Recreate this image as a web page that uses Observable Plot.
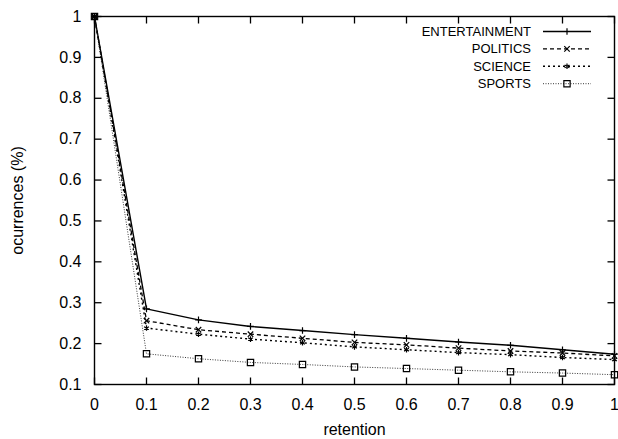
<!DOCTYPE html>
<html>
<head>
<meta charset="utf-8">
<script src="https://cdn.jsdelivr.net/npm/d3@7"></script>
<script src="https://cdn.jsdelivr.net/npm/@observablehq/plot@0.6"></script>
<style>
  body { margin: 0; background: #fff; }
  svg { font-family: "Liberation Sans", Arial, Helvetica, sans-serif; }
</style>
</head>
<body>
<div id="chart"></div>
<script>
// Retention levels on the x axis
const retention = [0, 0.1, 0.2, 0.3, 0.4, 0.5, 0.6, 0.7, 0.8, 0.9, 1];

// Share of occurrences per category
const entertainment = [1, 0.285, 0.258, 0.242, 0.232, 0.222, 0.213, 0.204, 0.196, 0.185, 0.174];
const politics      = [1, 0.256, 0.234, 0.223, 0.213, 0.203, 0.197, 0.189, 0.182, 0.177, 0.170];
const science       = [1, 0.238, 0.223, 0.211, 0.202, 0.192, 0.185, 0.178, 0.173, 0.166, 0.161];
const sports        = [1, 0.175, 0.163, 0.154, 0.149, 0.143, 0.139, 0.135, 0.131, 0.128, 0.124];

const categories = ["ENTERTAINMENT", "POLITICS", "SCIENCE", "SPORTS"];
const seriesValues = [entertainment, politics, science, sports];

// Axis ticks
const xTicks = [0, 0.1, 0.2, 0.3, 0.4, 0.5, 0.6, 0.7, 0.8, 0.9, 1];
const xTickLabels = ["0", "0.1", "0.2", "0.3", "0.4", "0.5", "0.6", "0.7", "0.8", "0.9", "1"];
const yTicks = [0.1, 0.2, 0.3, 0.4, 0.5, 0.6, 0.7, 0.8, 0.9, 1];
const yTickLabels = ["0.1", "0.2", "0.3", "0.4", "0.5", "0.6", "0.7", "0.8", "0.9", "1"];

// Line and marker style for each category
const styles = {
  ENTERTAINMENT: {dash: null,    width: 1.4, symbol: "plus",     r: 2.3, color: "#000"},
  POLITICS:      {dash: "4,3",   width: 1.3, symbol: "times",    r: 2.6, color: "#000"},
  SCIENCE:       {dash: "2,3",   width: 1.4, symbol: "asterisk", r: 2.6, color: "#000"},
  SPORTS:        {dash: "1,1.5", width: 0.9, symbol: "square2",  r: 4.0, color: "#222"}
};

const W = 618, H = 439;
const M = {left: 94, right: 4, top: 16, bottom: 55};
const xDomain = [0, 1];
const yDomain = [0.1, 1];
const innerW = W - M.left - M.right;
const innerH = H - M.top - M.bottom;
const tickLen = 7;
// inward tick length expressed in each scale's units
const xTickSpan = tickLen * (xDomain[1] - xDomain[0]) / innerW;
const yTickSpan = tickLen * (yDomain[1] - yDomain[0]) / innerH;

// Each inward tick is a two-point segment, drawn as its own short line
const tickSegments = [
  ...xTicks.flatMap((x, i) => [
    {id: `b${i}`, x, y: yDomain[0]}, {id: `b${i}`, x, y: yDomain[0] + yTickSpan},
    {id: `t${i}`, x, y: yDomain[1]}, {id: `t${i}`, x, y: yDomain[1] - yTickSpan}
  ]),
  ...yTicks.flatMap((y, i) => [
    {id: `l${i}`, x: xDomain[0], y}, {id: `l${i}`, x: xDomain[0] + xTickSpan, y},
    {id: `r${i}`, x: xDomain[1], y}, {id: `r${i}`, x: xDomain[1] - xTickSpan, y}
  ])
];

const rows = categories.flatMap((c, k) =>
  retention.map((r, i) => ({category: c, retention: r, value: seriesValues[k][i]})));

const xFmt = d => xTickLabels[xTicks.indexOf(d)];
const yFmt = d => yTickLabels[yTicks.indexOf(d)];

const lineMarks = categories.flatMap(c => {
  const s = styles[c];
  const data = rows.filter(d => d.category === c);
  return [
    Plot.line(data, {x: "retention", y: "value", stroke: s.color, strokeWidth: s.width,
      strokeDasharray: s.dash, strokeLinecap: "butt"}),
    Plot.dot(data, {x: "retention", y: "value", symbol: () => s.symbol, r: s.r,
      stroke: "#000", fill: "none", strokeWidth: 1.2})
  ];
});

const plot = Plot.plot({
  width: W,
  height: H,
  marginLeft: M.left,
  marginRight: M.right,
  marginTop: M.top,
  marginBottom: M.bottom,
  style: {fontSize: "16px", color: "#000", background: "#fff", overflow: "visible"},
  x: {domain: xDomain},
  y: {domain: yDomain},
  symbol: {type: "identity"},
  marks: [
    // tick labels and axis titles
    Plot.axisX({anchor: "bottom", ticks: xTicks, tickFormat: xFmt, tickSize: 0, tickPadding: 14,
      label: "retention", labelAnchor: "center", labelArrow: "none", labelOffset: 50}),
    Plot.axisY({anchor: "left", ticks: yTicks, tickFormat: yFmt, tickSize: 0, tickPadding: 13,
      label: "ocurrences (%)", labelAnchor: "center", labelArrow: "none", labelOffset: 83}),
    // inward tick marks on all four sides
    Plot.line(tickSegments, {x: "x", y: "y", z: "id", stroke: "#000", strokeWidth: 1.3,
      strokeLinecap: "butt"}),
    ...lineMarks,
    Plot.frame({stroke: "#000", strokeWidth: 1.4})
  ]
});

// Key in the upper right corner: name, line sample and marker
const symbolTypes = {plus: d3.symbolPlus, times: d3.symbolTimes, asterisk: d3.symbolAsterisk, square2: d3.symbolSquare2};
const key = d3.select(plot).append("g").attr("font-size", 13);
categories.forEach((c, i) => {
  const s = styles[c];
  const y = 31.5 + i * 17.4;
  key.append("text").attr("x", 531).attr("y", y).attr("dy", "0.35em")
    .attr("text-anchor", "end").attr("fill", "#000").text(c);
  key.append("line").attr("x1", 543).attr("x2", 591).attr("y1", y).attr("y2", y)
    .attr("stroke", s.color).attr("stroke-width", s.width)
    .attr("stroke-dasharray", s.dash);
  key.append("path").attr("transform", `translate(567,${y})`)
    .attr("d", d3.symbol(symbolTypes[s.symbol], Math.PI * s.r * s.r)())
    .attr("fill", "none").attr("stroke", "#000").attr("stroke-width", 1.2);
});

document.getElementById("chart").appendChild(plot);
</script>
</body>
</html>
